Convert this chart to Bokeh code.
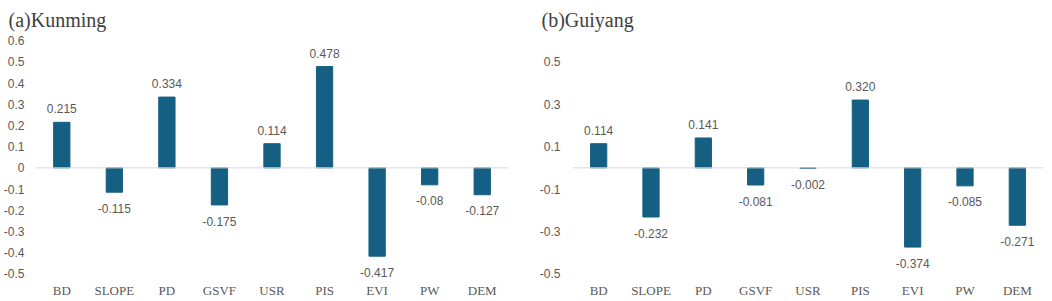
from bokeh.plotting import figure
from bokeh.layouts import row
from bokeh.models import ColumnDataSource, Span, FixedTicker, FactorRange, Range1d
from bokeh.embed import file_html
from bokeh.resources import INLINE
from bokeh.core.properties import value

categories = ["BD", "SLOPE", "PD", "GSVF", "USR", "PIS", "EVI", "PW", "DEM"]
kunming = [0.215, -0.115, 0.334, -0.175, 0.114, 0.478, -0.417, -0.08, -0.127]
guiyang = [0.114, -0.232, 0.141, -0.081, -0.002, 0.320, -0.374, -0.085, -0.271]
kunming_labels = ["0.215", "-0.115", "0.334", "-0.175", "0.114", "0.478", "-0.417", "-0.08", "-0.127"]
guiyang_labels = ["0.114", "-0.232", "0.141", "-0.081", "-0.002", "0.320", "-0.374", "-0.085", "-0.271"]
kunming_ticks = [-0.5, -0.4, -0.3, -0.2, -0.1, 0, 0.1, 0.2, 0.3, 0.4, 0.5, 0.6]
kunming_tick_labels = ["-0.5", "-0.4", "-0.3", "-0.2", "-0.1", "0", "0.1", "0.2", "0.3", "0.4", "0.5", "0.6"]
guiyang_ticks = [-0.5, -0.3, -0.1, 0.1, 0.3, 0.5]
guiyang_tick_labels = ["-0.5", "-0.3", "-0.1", "0.1", "0.3", "0.5"]

BAR = "#156082"
TXT = "#595959"


def make(title, vals, labels, ticks, tick_labels, fw, bl, br, tstand, toff):
    ly = [v + 0.064 if v >= 0 else v - 0.076 for v in vals]
    src = ColumnDataSource(dict(cat=categories, val=vals, lab=labels, ly=ly))
    p = figure(x_range=FactorRange(factors=categories), y_range=Range1d(-0.527, 0.62),
               frame_width=fw, frame_height=243, output_backend="svg", toolbar_location=None,
               min_border_left=bl, min_border_right=br, min_border_top=0, min_border_bottom=0)
    p.outline_line_color = None
    p.xgrid.grid_line_color = None
    p.ygrid.grid_line_color = None
    p.add_layout(Span(location=0, dimension="width", line_color="#d9d9d9", line_width=1))
    p.vbar(x="cat", top="val", bottom=0, width=0.31, source=src, fill_color=BAR, line_color=BAR)
    p.text(x="cat", y="ly", text="lab", source=src, text_align="center", text_baseline="middle",
           text_font=value("Liberation Sans"), text_font_size="12px", text_color=TXT)
    p.yaxis.ticker = FixedTicker(ticks=ticks)
    p.yaxis.major_label_overrides = {t: s for t, s in zip(ticks, tick_labels)}
    for ax in (p.xaxis, p.yaxis):
        ax.axis_line_color = None
        ax.major_tick_line_color = None
        ax.minor_tick_line_color = None
        ax.major_tick_out = 0
        ax.major_tick_in = 0
        ax.minor_tick_out = 0
        ax.minor_tick_in = 0
    p.yaxis.major_label_text_font = "Liberation Sans"
    p.yaxis.major_label_text_font_size = "12px"
    p.yaxis.major_label_text_color = TXT
    p.yaxis.major_label_standoff = tstand
    p.xaxis.major_label_text_font = "Liberation Serif"
    p.xaxis.major_label_text_font_size = "13px"
    p.xaxis.major_label_text_color = TXT
    p.xaxis.major_label_standoff = 3
    p.title.text = title
    p.title.text_font = "Liberation Serif"
    p.title.text_font_size = "20px"
    p.title.text_font_style = "normal"
    p.title.text_color = "#404040"
    p.title.align = "left"
    p.title.offset = toff
    p.title.standoff = 12
    return p


p1 = make("(a)Kunming", kunming, kunming_labels, kunming_ticks, kunming_tick_labels, 473, 27, 24, 11, -27)
p2 = make("(b)Guiyang", guiyang, guiyang_labels, guiyang_ticks, guiyang_tick_labels, 471, 40, 1, 12, -31)
layout = row(p1, p2)
open("out.html", "w").write(file_html(layout, INLINE))
